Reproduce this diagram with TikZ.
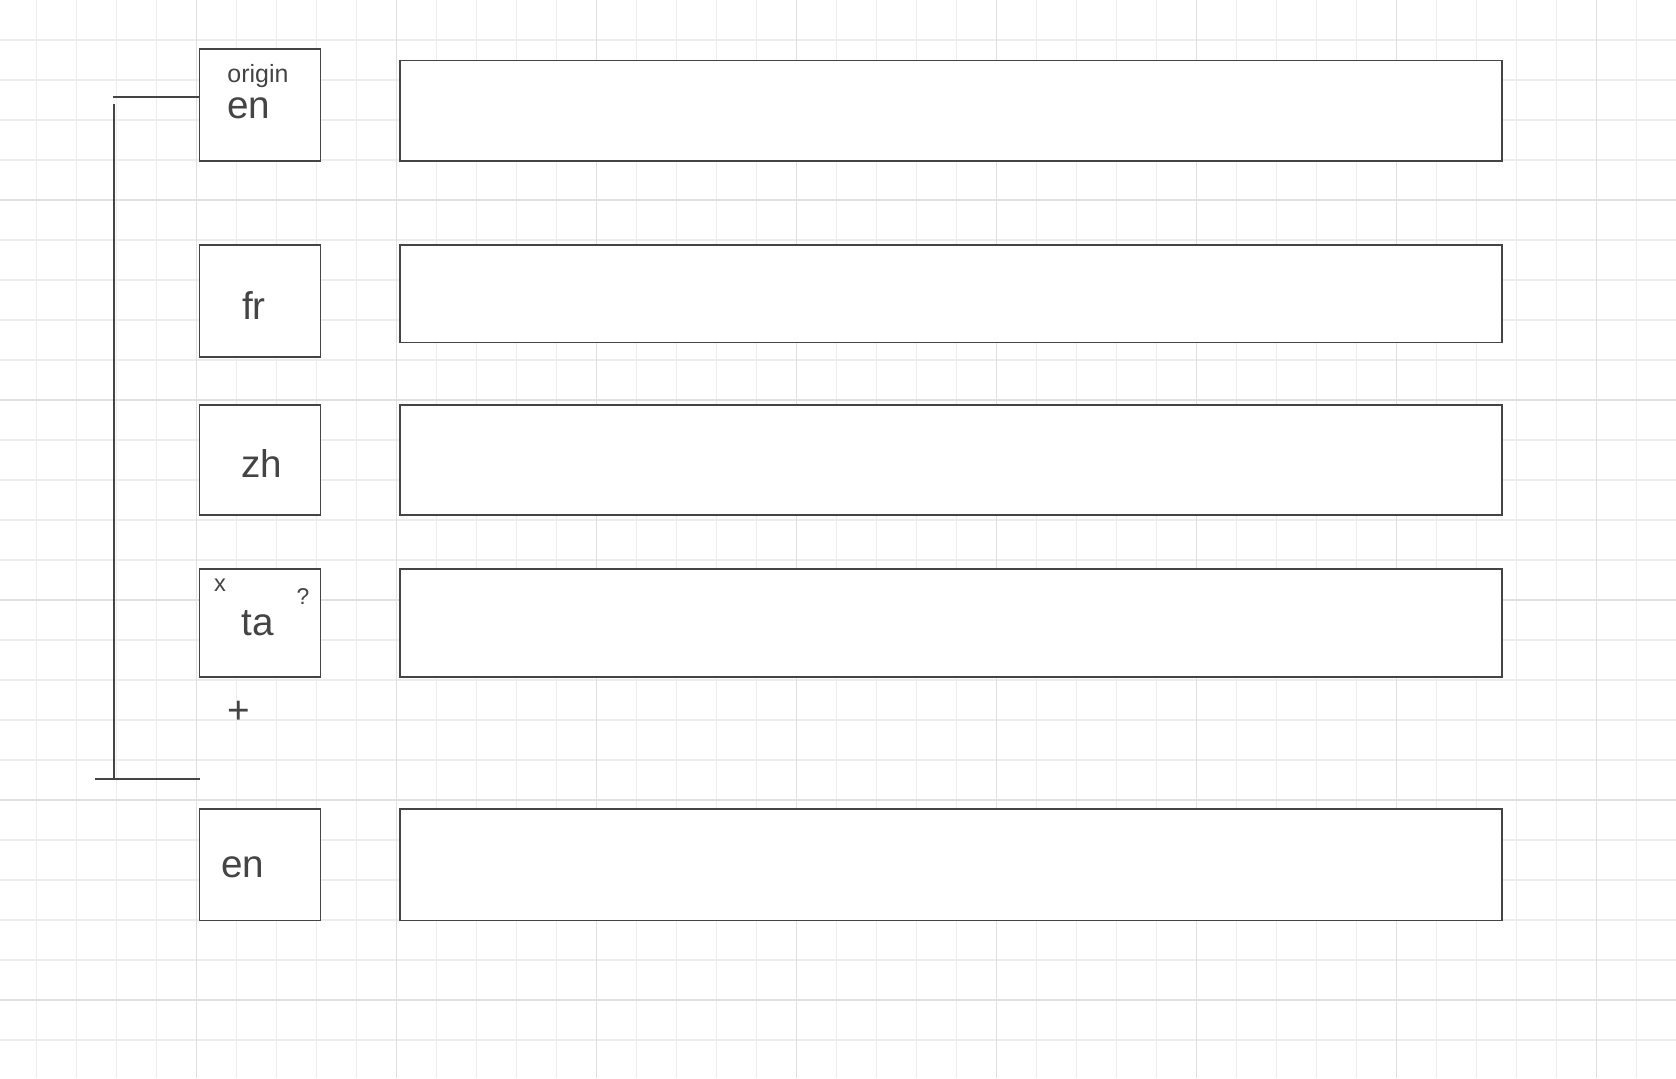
\documentclass[tikz,border=0pt]{standalone}
\usepackage{fontspec}
\setmainfont{Liberation Sans}
\usetikzlibrary{positioning}
\definecolor{ink}{HTML}{444444}
\definecolor{gridminor}{HTML}{EDEDED}
\definecolor{gridmajor}{HTML}{E0E0E0}

\begin{document}
\begin{tikzpicture}[
    x=0.02cm, y=-0.02cm,
    lang/.style ={
        rectangle,
        draw=ink,
        fill=white,
        line width=0.9pt,
        inner sep=0pt,
        minimum width=2.42cm
    },
    row/.style ={
        rectangle,
        draw=ink,
        fill=white,
        line width=0.9pt,
        inner sep=0pt,
        minimum width=22.04cm
    },
    word/.style ={
        ink,
        inner sep=0pt,
        anchor=base,
        font=\fontsize{22}{26}\selectfont
    },
    tiny/.style ={
        ink,
        inner sep=0pt,
        anchor=base,
        font=\fontsize{13.5}{16}\selectfont
    },
    wire/.style ={
        draw=ink,
        line width=0.9pt
    }
    ]
    % page and grid
    \fill[white] (0,0) rectangle (1676,1078);
    \useasboundingbox (0,0) rectangle (1676,1078);
    \foreach \i in {0,...,41}
        \draw[gridminor, line width=0.6pt] ({36.7+40*\i},0) -- ++(0,1078);
    \foreach \j in {1,...,26}
        \draw[gridminor, line width=0.6pt] (0,{40*\j}) -- ++(1676,0);
    \foreach \i in {0,...,7}
        \draw[gridmajor, line width=0.75pt] ({196.7+200*\i},0) -- ++(0,1078);
    \foreach \j in {1,...,5}
        \draw[gridmajor, line width=0.75pt] (0,{200*\j}) -- ++(1676,0);

    % language boxes
    \node[lang, minimum height=2.246cm] (en1) at (260,104.85) {};
    \node[lang, minimum height=2.246cm] (fr) at (260,300.85) {};
    \node[lang, minimum height=2.206cm] (zh) at (260,459.85) {};
    \node[lang, minimum height=2.16cm] (ta) at (260,623) {};
    \node[lang, minimum height=2.24cm] (en2) at (260,864.7) {};

    % text rows
    \node[row, minimum height=2.006cm] (rowen1) at (951,110.85) {};
    \node[row, minimum height=1.954cm] (rowfr) at (951,293.85) {};
    \node[row, minimum height=2.206cm] (rowzh) at (951,459.85) {};
    \node[row, minimum height=2.16cm] (rowta) at (951,623) {};
    \node[row, minimum height=2.24cm] (rowen2) at (951,864.7) {};

    % labels
    \node[tiny, font=\fontsize{14.2}{17}\selectfont] (origin) at (258,83) {origin};
    \node[word] (en1txt) at (249,118.5) {en};
    \node[word] (frtxt) at (254,319.5) {fr};
    \node[word] (zhtxt) at (262,477) {zh};
    \node[word] (tatxt) at (258,635.5) {ta};
    \node[tiny] (close) at (220,591) {x};
    \node[tiny, font=\fontsize{13}{16}\selectfont] (ask) at (303,604.3) {?};
    \node[word, anchor=center] (add) at (238.5,712) {+};
    \node[word] (en2txt) at (243,877.5) {en};

    % bracket
    \coordinate (brtop) at (113,97);
    \coordinate (brup) at (114,104);
    \coordinate (brlow) at (114,780);
    \coordinate (brfoot) at (95,779);
    \draw[wire] (brtop) -- (brtop -| en1.west);
    \draw[wire] (brup) -- (brlow);
    \draw[wire] (brfoot) -- ([xshift=1pt]brfoot -| en2.west);
\end{tikzpicture}
\end{document}
